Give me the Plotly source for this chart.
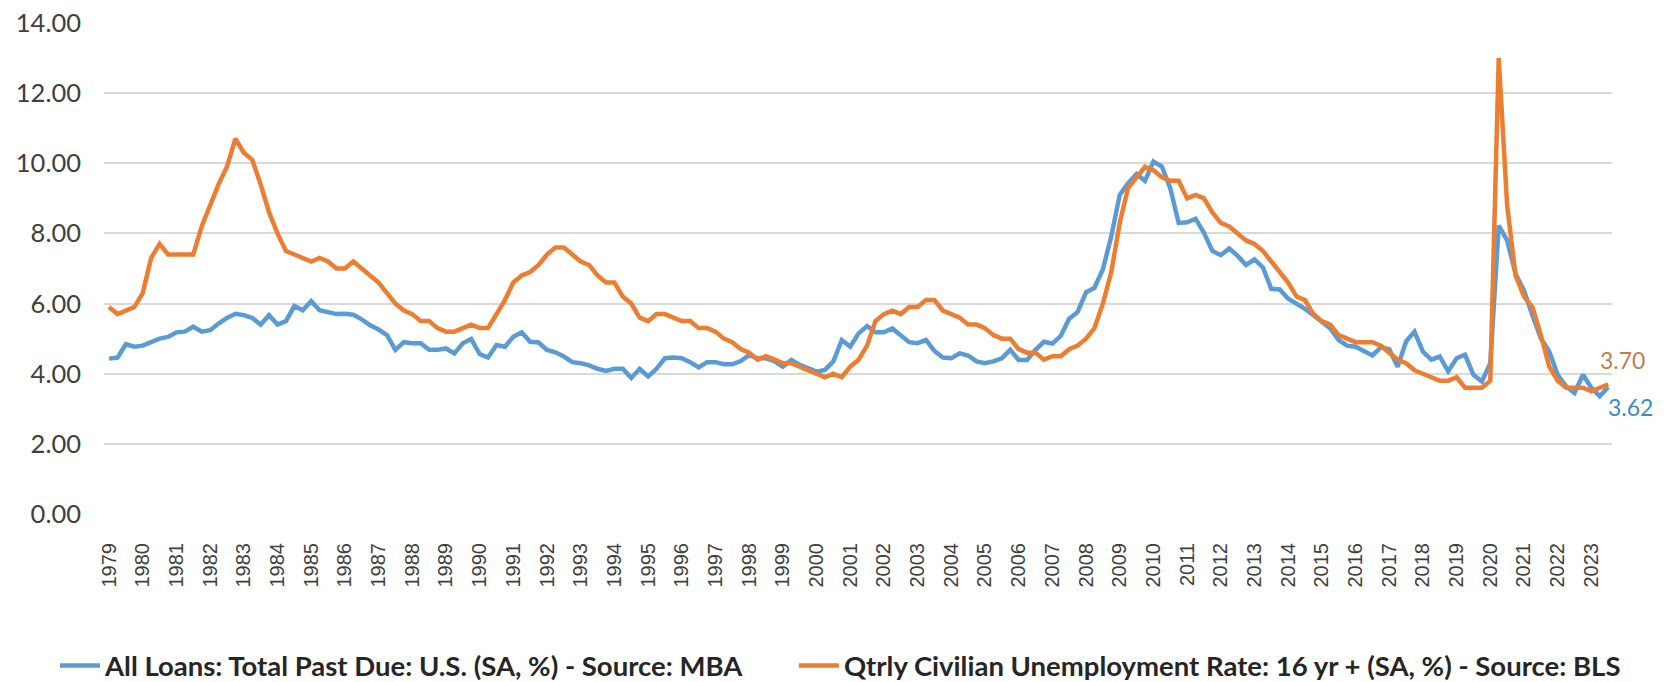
import plotly.graph_objects as go

# ---------------- data ----------------
years = list(range(1979, 2024))
quarters = [f"{y} Q{q}" for y in years for q in range(1, 5)][:179]   # 1979 Q1 .. 2023 Q3
tick_years = [str(y) for y in years]

# All Loans: Total Past Due: U.S. (SA, %) - Source: MBA
past_due = [
    4.43, 4.46, 4.84, 4.77,   # 1979
    4.80, 4.91, 5.00, 5.05,   # 1980
    5.18, 5.20, 5.34, 5.20,   # 1981
    5.24, 5.43, 5.59, 5.71,   # 1982
    5.67, 5.59, 5.40, 5.67,   # 1983
    5.40, 5.50, 5.93, 5.81,   # 1984
    6.07, 5.81, 5.76, 5.70,   # 1985
    5.71, 5.68, 5.55, 5.38,   # 1986
    5.26, 5.10, 4.68, 4.90,   # 1987
    4.87, 4.87, 4.68, 4.68,   # 1988
    4.72, 4.58, 4.87, 4.99,   # 1989
    4.56, 4.46, 4.82, 4.77,   # 1990
    5.05, 5.18, 4.91, 4.89,   # 1991
    4.68, 4.61, 4.49, 4.33,   # 1992
    4.30, 4.24, 4.14, 4.08,   # 1993
    4.14, 4.14, 3.88, 4.14,   # 1994
    3.92, 4.14, 4.44, 4.46,   # 1995
    4.44, 4.33, 4.18, 4.33,   # 1996
    4.33, 4.27, 4.27, 4.36,   # 1997
    4.53, 4.44, 4.44, 4.36,   # 1998
    4.20, 4.39, 4.25, 4.14,   # 1999
    4.06, 4.11, 4.35, 4.96,   # 2000
    4.77, 5.15, 5.36, 5.18,   # 2001
    5.18, 5.29, 5.08, 4.90,   # 2002
    4.87, 4.96, 4.65, 4.46,   # 2003
    4.44, 4.58, 4.52, 4.35,   # 2004
    4.30, 4.35, 4.44, 4.68,   # 2005
    4.39, 4.39, 4.68, 4.91,   # 2006
    4.86, 5.08, 5.57, 5.76,   # 2007
    6.32, 6.45, 6.98, 7.92,   # 2008
    9.10, 9.43, 9.69, 9.50,   # 2009
    10.05, 9.91, 9.29, 8.30,  # 2010
    8.32, 8.42, 8.02, 7.50,   # 2011
    7.38, 7.57, 7.36, 7.10,   # 2012
    7.26, 7.03, 6.42, 6.40,   # 2013
    6.14, 6.00, 5.85, 5.67,   # 2014
    5.48, 5.29, 4.96, 4.80,   # 2015
    4.77, 4.65, 4.52, 4.75,   # 2016
    4.70, 4.20, 4.92, 5.20,   # 2017
    4.63, 4.40, 4.49, 4.07,   # 2018
    4.44, 4.54, 3.97, 3.78,   # 2019
    4.30, 8.22, 7.80, 6.85,   # 2020
    6.37, 5.67, 5.01, 4.63,   # 2021
    3.97, 3.64, 3.45, 3.97,   # 2022
    3.60, 3.36, 3.62,         # 2023
]

# Qtrly Civilian Unemployment Rate: 16 yr + (SA, %) - Source: BLS
unemployment = [
    5.9, 5.7, 5.8, 5.9,       # 1979
    6.3, 7.3, 7.7, 7.4,       # 1980
    7.4, 7.4, 7.4, 8.2,       # 1981
    8.8, 9.4, 9.9, 10.7,      # 1982
    10.3, 10.1, 9.4, 8.6,     # 1983
    8.0, 7.5, 7.4, 7.3,       # 1984
    7.2, 7.3, 7.2, 7.0,       # 1985
    7.0, 7.2, 7.0, 6.8,       # 1986
    6.6, 6.3, 6.0, 5.8,       # 1987
    5.7, 5.5, 5.5, 5.3,       # 1988
    5.2, 5.2, 5.3, 5.4,       # 1989
    5.3, 5.3, 5.7, 6.1,       # 1990
    6.6, 6.8, 6.9, 7.1,       # 1991
    7.4, 7.6, 7.6, 7.4,       # 1992
    7.2, 7.1, 6.8, 6.6,       # 1993
    6.6, 6.2, 6.0, 5.6,       # 1994
    5.5, 5.7, 5.7, 5.6,       # 1995
    5.5, 5.5, 5.3, 5.3,       # 1996
    5.2, 5.0, 4.9, 4.7,       # 1997
    4.6, 4.4, 4.5, 4.4,       # 1998
    4.3, 4.3, 4.2, 4.1,       # 1999
    4.0, 3.9, 4.0, 3.9,       # 2000
    4.2, 4.4, 4.8, 5.5,       # 2001
    5.7, 5.8, 5.7, 5.9,       # 2002
    5.9, 6.1, 6.1, 5.8,       # 2003
    5.7, 5.6, 5.4, 5.4,       # 2004
    5.3, 5.1, 5.0, 5.0,       # 2005
    4.7, 4.6, 4.6, 4.4,       # 2006
    4.5, 4.5, 4.7, 4.8,       # 2007
    5.0, 5.3, 6.0, 6.9,       # 2008
    8.3, 9.3, 9.6, 9.9,       # 2009
    9.8, 9.6, 9.5, 9.5,       # 2010
    9.0, 9.1, 9.0, 8.6,       # 2011
    8.3, 8.2, 8.0, 7.8,       # 2012
    7.7, 7.5, 7.2, 6.9,       # 2013
    6.6, 6.2, 6.1, 5.7,       # 2014
    5.5, 5.4, 5.1, 5.0,       # 2015
    4.9, 4.9, 4.9, 4.8,       # 2016
    4.6, 4.4, 4.3, 4.1,       # 2017
    4.0, 3.9, 3.8, 3.8,       # 2018
    3.9, 3.6, 3.6, 3.6,       # 2019
    3.8, 13.0, 8.8, 6.8,      # 2020
    6.2, 5.9, 5.1, 4.2,       # 2021
    3.8, 3.6, 3.6, 3.6,       # 2022
    3.5, 3.6, 3.7,            # 2023
]

series_names = [
    "All Loans: Total Past Due: U.S. (SA, %) - Source: MBA",
    "Qtrly Civilian Unemployment Rate: 16 yr + (SA, %) - Source: BLS",
]

BLUE = "#5B9BD5"
ORANGE = "#ED7D31"

# ---------------- figure ----------------
fig = go.Figure()
fig.add_trace(go.Scatter(x=quarters, y=past_due, mode="lines", name=series_names[0],
                         line=dict(color=BLUE, width=4.5), legend="legend"))
fig.add_trace(go.Scatter(x=quarters, y=unemployment, mode="lines", name=series_names[1],
                         line=dict(color=ORANGE, width=4.5), legend="legend2"))

fig.add_annotation(x=quarters[-1], y=unemployment[-1], text=f"{unemployment[-1]:.2f}",
                   showarrow=False, xshift=14, yshift=24,
                   font=dict(family="Lato", size=23, color="#C0804A"))
fig.add_annotation(x=quarters[-1], y=past_due[-1], text=f"{past_due[-1]:.2f}",
                   showarrow=False, xshift=22, yshift=-20,
                   font=dict(family="Lato", size=23, color="#3A8CC4"))

legend_font = dict(family="Lato", size=27.5, color="#262626", weight="bold")

# page body has an 8px default margin; figure sized/offset to compensate
fig.update_layout(
    width=1661, height=674, autosize=False,
    paper_bgcolor="white", plot_bgcolor="white",
    margin=dict(l=96, r=57, t=15, b=168, autoexpand=False),
    showlegend=True,
    legend=dict(orientation="h", x=-0.0325, xanchor="left", y=-0.309, yanchor="middle",
                font=legend_font, itemwidth=40, bgcolor="rgba(0,0,0,0)"),
    legend2=dict(orientation="h", x=0.4575, xanchor="left", y=-0.309, yanchor="middle",
                 font=legend_font, itemwidth=40, bgcolor="rgba(0,0,0,0)"),
    hovermode=False,
)
fig.update_yaxes(range=[0, 14], dtick=2, tickformat=".2f", automargin=False,
                 showgrid=True, gridcolor="#D9D9D9", gridwidth=1.5,
                 zeroline=False, showline=False, ticks="",
                 ticklabelstandoff=22, ticklabeloverflow="allow",
                 tickfont=dict(family="Lato", size=25.5, color="#404040"))
fig.update_xaxes(type="category", range=[-0.6, 178.45], automargin=False,
                 tickmode="array", tickvals=quarters[::4], ticktext=tick_years,
                 tickangle=-90, showgrid=False, zeroline=False, showline=False, ticks="",
                 ticklabelstandoff=24,
                 tickfont=dict(family="Liberation Sans", size=20, color="#404040"))

fig.write_html("out.html")
